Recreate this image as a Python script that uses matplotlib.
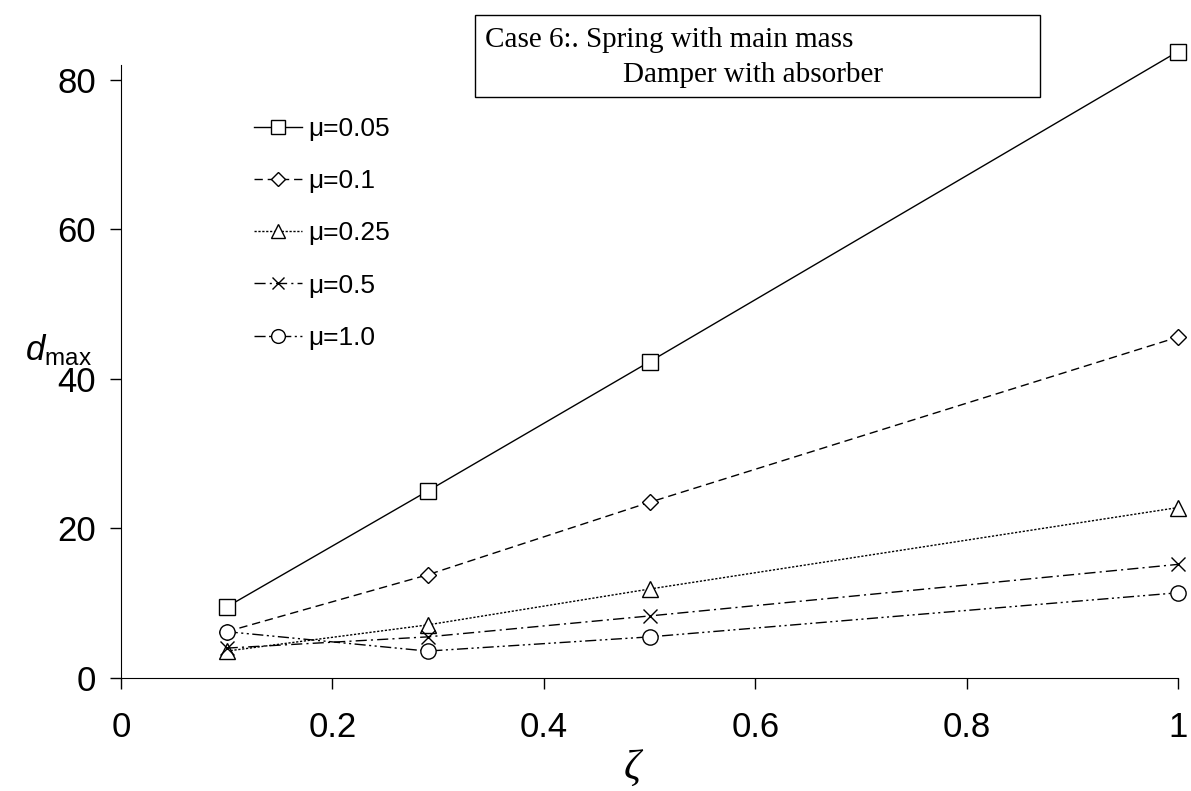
import matplotlib
matplotlib.use("Agg")
import matplotlib.pyplot as plt
from matplotlib.patches import Rectangle

plt.rcParams['font.family'] = ['Liberation Sans', 'DejaVu Sans']
plt.rcParams['mathtext.fontset'] = 'custom'
plt.rcParams['mathtext.rm'] = 'Liberation Sans'
plt.rcParams['mathtext.it'] = 'Liberation Sans:italic'

# damping ratio values
zeta = [0.1, 0.29, 0.5, 1.0]
# d_max for each mass ratio
d_005 = [9.5, 25.0, 42.3, 83.8]
d_01 = [6.2, 13.8, 23.5, 45.6]
d_025 = [3.6, 7.1, 11.9, 22.8]
d_05 = [4.0, 5.5, 8.3, 15.2]
d_10 = [6.2, 3.6, 5.5, 11.4]
labels = ['μ=0.05', 'μ=0.1', 'μ=0.25', 'μ=0.5', 'μ=1.0']

W, H = 1191, 791
fig = plt.figure(figsize=(W/100, H/100), dpi=100)
ax = fig.add_axes([121/W, 1-678/H, (1178-121)/W, (678-65)/H])

styles = [
    ('s', 11, (None, None)),
    ('D', 8, (6, 3.5)),
    ('^', 11, (1.6, 1.2)),
    ('x', 10, (8, 3, 1.5, 3)),
    ('o', 11, (8, 2.5, 1.5, 2.5, 1.5, 2.5)),
]
series = [d_005, d_01, d_025, d_05, d_10]
for y, lab, (m, ms, dash) in zip(series, labels, styles):
    ln, = ax.plot(zeta, y, color='black', lw=1.0, marker=m, ms=ms,
                  mfc='white', mec='black', mew=1.0, label=lab, clip_on=False)
    if dash[0] is not None:
        ln.set_dashes(dash)

ax.set_xlim(0, 1)
ax.set_ylim(0, 82)
ax.set_xticks([0, 0.2, 0.4, 0.6, 0.8, 1])
ax.set_xticklabels(['0', '0.2', '0.4', '0.6', '0.8', '1'])
ax.set_yticks([0, 20, 40, 60, 80])
for s in ['top', 'right']:
    ax.spines[s].set_visible(False)
ax.tick_params(axis='both', direction='out', length=8, width=1, labelsize=25)
ax.tick_params(axis='x', pad=16)
ax.tick_params(axis='y', pad=10)

fig.text(58/W, 1-350/H, r'$d_{\rm max}$', fontsize=25, ha='center', va='center')
fig.text(632/W, 1-770/H, 'ζ', fontsize=30, ha='center', va='center',
         family='Liberation Serif', style='italic')

leg = ax.legend(loc='upper left', bbox_to_anchor=(254/W, 1-117/H),
                bbox_transform=fig.transFigure, frameon=False, fontsize=19,
                handlelength=1.8, handletextpad=0.25, labelspacing=1.07,
                borderpad=0, borderaxespad=0, markerscale=0.9)

fig.patches.append(Rectangle((475/W, 1-97/H), 565/W, 82/H, transform=fig.transFigure,
                             fill=False, edgecolor='black', lw=1.0))
fig.text(485/W, 1-40/H, 'Case 6:. Spring with main mass', fontsize=21,
         family='Liberation Serif', va='center')
fig.text(623/W, 1-75/H, 'Damper with absorber', fontsize=21,
         family='Liberation Serif', va='center')

fig.savefig('out.png', dpi=100)
